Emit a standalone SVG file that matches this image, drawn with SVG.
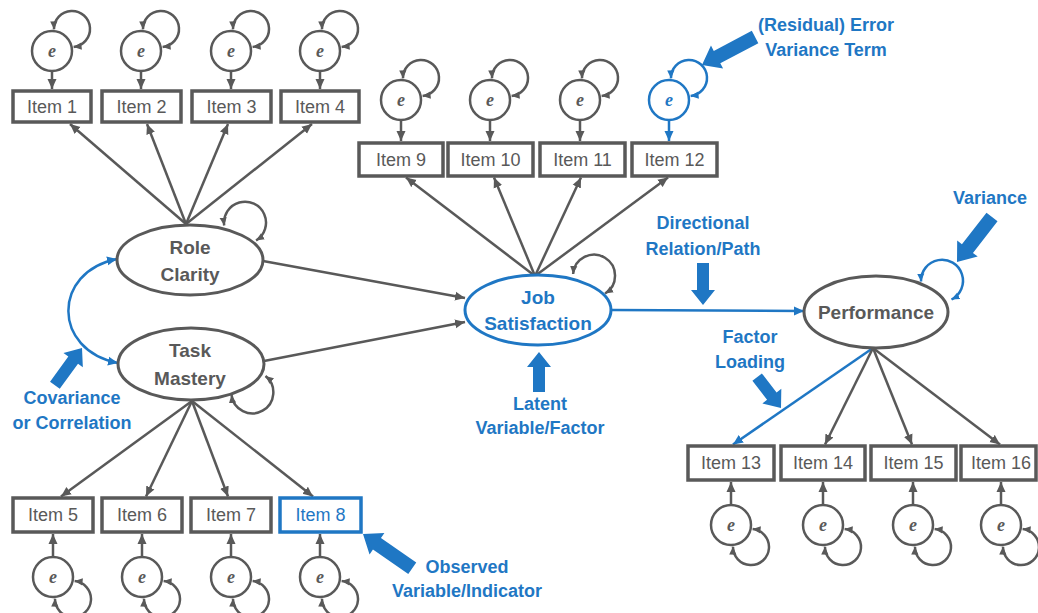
<svg xmlns="http://www.w3.org/2000/svg" xmlns:xlink="http://www.w3.org/1999/xlink" width="1038" height="613" viewBox="0 0 1038 613">
<style>
.ln{stroke:#595959;stroke-width:2.5;fill:none;marker-end:url(#ag)}
.lb{stroke:#1f77c4;stroke-width:2.5;fill:none;marker-end:url(#ab)}
.box{fill:#fff;stroke:#595959;stroke-width:3.5}
.boxb{fill:#fff;stroke:#1f77c4;stroke-width:3.5}
.itm{font-family:"Liberation Sans",Arial,sans-serif;font-size:18px;fill:#595959;text-anchor:middle}
.itmb{font-family:"Liberation Sans",Arial,sans-serif;font-size:18px;fill:#1f77c4;text-anchor:middle}
.lat{font-family:"Liberation Sans",Arial,sans-serif;font-size:19px;font-weight:bold;fill:#595959;text-anchor:middle}
.latb{font-family:"Liberation Sans",Arial,sans-serif;font-size:19px;font-weight:bold;fill:#1f77c4;text-anchor:middle}
.ell{fill:#fff;stroke:#595959;stroke-width:3}
.ellb{fill:#fff;stroke:#1f77c4;stroke-width:3}
.err{fill:#fff;stroke:#595959;stroke-width:2.5}
.errb{fill:#fff;stroke:#1f77c4;stroke-width:2.5}
.et{font-family:"Liberation Serif","Times New Roman",serif;font-style:italic;font-weight:bold;font-size:18px;fill:#595959;text-anchor:middle}
.etb{font-family:"Liberation Serif","Times New Roman",serif;font-style:italic;font-weight:bold;font-size:18px;fill:#1f77c4;text-anchor:middle}
.loop{fill:none;stroke:#595959;stroke-width:2.5;marker-start:url(#agl);marker-end:url(#agl)}
.loopb{fill:none;stroke:#1f77c4;stroke-width:2.5;marker-start:url(#abl);marker-end:url(#abl)}
.ann{font-family:"Liberation Sans",Arial,sans-serif;font-size:18px;font-weight:bold;fill:#1f77c4;text-anchor:middle}
.blk{fill:#1f77c4}
</style>
<defs>
<marker id="ag" viewBox="0 0 10 10" refX="10" refY="5" markerWidth="10" markerHeight="10" markerUnits="userSpaceOnUse" orient="auto-start-reverse"><path d="M0,0.5 L10,5 L0,9.5 Z" fill="#595959"/></marker>
<marker id="ab" viewBox="0 0 10 10" refX="10" refY="5" markerWidth="10" markerHeight="10" markerUnits="userSpaceOnUse" orient="auto-start-reverse"><path d="M0,0.5 L10,5 L0,9.5 Z" fill="#1f77c4"/></marker>
<marker id="agl" viewBox="0 0 10 10" refX="10" refY="5" markerWidth="8" markerHeight="8" markerUnits="userSpaceOnUse" orient="auto-start-reverse"><path d="M0,0.5 L10,5 L0,9.5 Z" fill="#595959"/></marker>
<marker id="abl" viewBox="0 0 10 10" refX="10" refY="5" markerWidth="8" markerHeight="8" markerUnits="userSpaceOnUse" orient="auto-start-reverse"><path d="M0,0.5 L10,5 L0,9.5 Z" fill="#1f77c4"/></marker>
<path id="loopT" class="loop" d="M2,-21.6 A18,18 0 1 1 21.6,-4.1"/>
<path id="loopTb" class="loopb" d="M2,-21.6 A18,18 0 1 1 21.6,-4.1"/>
<path id="loopB" class="loop" d="M21.6,4.1 A18,18 0 1 1 2,21.6"/>
</defs>
<rect width="1038" height="613" fill="#fff"/>

<g id="connectors">
<line class="ln" x1="52" y1="71" x2="52" y2="89"/>
<line class="ln" x1="141" y1="71" x2="141" y2="89"/>
<line class="ln" x1="231" y1="71" x2="231" y2="89"/>
<line class="ln" x1="320" y1="71" x2="320" y2="89"/>
<line class="ln" x1="401" y1="120" x2="401" y2="141"/>
<line class="ln" x1="490" y1="120" x2="490" y2="141"/>
<line class="ln" x1="580" y1="120" x2="580" y2="141"/>
<line class="lb" x1="669" y1="120" x2="669" y2="141"/>
<line class="ln" x1="53" y1="557" x2="53" y2="534"/>
<line class="ln" x1="142" y1="557" x2="142" y2="534"/>
<line class="ln" x1="231" y1="557" x2="231" y2="534"/>
<line class="ln" x1="320" y1="557" x2="320" y2="534"/>
<line class="ln" x1="731" y1="505" x2="731" y2="482"/>
<line class="ln" x1="823" y1="505" x2="823" y2="482"/>
<line class="ln" x1="913" y1="505" x2="913" y2="482"/>
<line class="ln" x1="1001" y1="505" x2="1001" y2="482"/>
<use href="#loopT" transform="translate(52,51)"/>
<use href="#loopT" transform="translate(141,51)"/>
<use href="#loopT" transform="translate(231,51)"/>
<use href="#loopT" transform="translate(320,51)"/>
<use href="#loopT" transform="translate(401,100)"/>
<use href="#loopT" transform="translate(490,100)"/>
<use href="#loopT" transform="translate(580,100)"/>
<use href="#loopTb" transform="translate(669,100)"/>
<use href="#loopB" transform="translate(53,577)"/>
<use href="#loopB" transform="translate(142,577)"/>
<use href="#loopB" transform="translate(231,577)"/>
<use href="#loopB" transform="translate(320,577)"/>
<use href="#loopB" transform="translate(731,525)"/>
<use href="#loopB" transform="translate(823,525)"/>
<use href="#loopB" transform="translate(913,525)"/>
<use href="#loopB" transform="translate(1001,525)"/>
<line class="ln" x1="186" y1="224" x2="70" y2="124"/>
<line class="ln" x1="186" y1="224" x2="147" y2="124"/>
<line class="ln" x1="186" y1="224" x2="228" y2="124"/>
<line class="ln" x1="186" y1="224" x2="312" y2="124"/>
<line class="ln" x1="192" y1="401" x2="61" y2="496.5"/>
<line class="ln" x1="192" y1="401" x2="146" y2="496.5"/>
<line class="ln" x1="192" y1="401" x2="228" y2="496.5"/>
<line class="ln" x1="192" y1="401" x2="313" y2="496.5"/>
<line class="ln" x1="535" y1="276" x2="406" y2="177.5"/>
<line class="ln" x1="535" y1="276" x2="494" y2="177.5"/>
<line class="ln" x1="535" y1="276" x2="581" y2="177.5"/>
<line class="ln" x1="535" y1="276" x2="668" y2="177.5"/>
<line class="lb" x1="873" y1="348" x2="733" y2="444.5"/>
<line class="ln" x1="873" y1="348" x2="825" y2="444.5"/>
<line class="ln" x1="873" y1="348" x2="912" y2="444.5"/>
<line class="ln" x1="873" y1="348" x2="1000" y2="444.5"/>
<line class="ln" x1="263" y1="261" x2="465" y2="298"/>
<line class="ln" x1="264" y1="361" x2="465" y2="322"/>
<line class="lb" x1="612" y1="310" x2="804" y2="311"/>
<path class="lb" style="marker-start:url(#ab)" d="M117,259 C52,272 52,350 118,363"/>
<path class="loop" d="M224.2,225.5 A21,21 0 1 1 256.1,240.5"/>
<path class="loop" d="M265.5,376 A21,21 0 1 1 231.5,395"/>
<path class="loop" d="M573.1,274 A21,21 0 1 1 605.1,293.5"/>
<path class="loopb" d="M921,281.5 A21,21 0 1 1 951.5,299.5"/>
</g>

<g id="item1"><rect class="box" x="13" y="91" width="78" height="31"/><text class="itm" x="52" y="112.5">Item 1</text></g>
<g id="item2"><rect class="box" x="102" y="91" width="79" height="31"/><text class="itm" x="141.5" y="112.5">Item 2</text></g>
<g id="item3"><rect class="box" x="192" y="91" width="79" height="31"/><text class="itm" x="231.5" y="112.5">Item 3</text></g>
<g id="item4"><rect class="box" x="281" y="91" width="78" height="31"/><text class="itm" x="320" y="112.5">Item 4</text></g>
<g id="item9"><rect class="box" x="359" y="143" width="84" height="33"/><text class="itm" x="401" y="165.5">Item 9</text></g>
<g id="item10"><rect class="box" x="448" y="143" width="85" height="33"/><text class="itm" x="490.5" y="165.5">Item 10</text></g>
<g id="item11"><rect class="box" x="540" y="143" width="85" height="33"/><text class="itm" x="582.5" y="165.5">Item 11</text></g>
<g id="item12"><rect class="box" x="632" y="143" width="85" height="33"/><text class="itm" x="674.5" y="165.5">Item 12</text></g>
<g id="item5"><rect class="box" x="13" y="498" width="80" height="34"/><text class="itm" x="53" y="521">Item 5</text></g>
<g id="item6"><rect class="box" x="102" y="498" width="80" height="34"/><text class="itm" x="142" y="521">Item 6</text></g>
<g id="item7"><rect class="box" x="191" y="498" width="80" height="34"/><text class="itm" x="231" y="521">Item 7</text></g>
<g id="item8"><rect class="boxb" x="280" y="498" width="81" height="34"/><text class="itmb" x="320.5" y="521">Item 8</text></g>
<g id="item13"><rect class="box" x="688" y="446" width="86" height="34"/><text class="itm" x="731" y="469">Item 13</text></g>
<g id="item14"><rect class="box" x="781" y="446" width="84" height="34"/><text class="itm" x="823" y="469">Item 14</text></g>
<g id="item15"><rect class="box" x="871" y="446" width="85" height="34"/><text class="itm" x="913.5" y="469">Item 15</text></g>
<g id="item16"><rect class="box" x="961" y="446" width="75" height="34"/><text class="itm" x="1001" y="469">Item 16</text></g>

<g id="e1"><circle class="err" cx="52" cy="51" r="20"/><text class="et" x="52" y="57">e</text></g>
<g id="e2"><circle class="err" cx="141" cy="51" r="20"/><text class="et" x="141" y="57">e</text></g>
<g id="e3"><circle class="err" cx="231" cy="51" r="20"/><text class="et" x="231" y="57">e</text></g>
<g id="e4"><circle class="err" cx="320" cy="51" r="20"/><text class="et" x="320" y="57">e</text></g>
<g id="e9"><circle class="err" cx="401" cy="100" r="20"/><text class="et" x="401" y="106">e</text></g>
<g id="e10"><circle class="err" cx="490" cy="100" r="20"/><text class="et" x="490" y="106">e</text></g>
<g id="e11"><circle class="err" cx="580" cy="100" r="20"/><text class="et" x="580" y="106">e</text></g>
<g id="e12"><circle class="errb" cx="669" cy="100" r="20"/><text class="etb" x="669" y="106">e</text></g>
<g id="e5"><circle class="err" cx="53" cy="577" r="20"/><text class="et" x="53" y="583">e</text></g>
<g id="e6"><circle class="err" cx="142" cy="577" r="20"/><text class="et" x="142" y="583">e</text></g>
<g id="e7"><circle class="err" cx="231" cy="577" r="20"/><text class="et" x="231" y="583">e</text></g>
<g id="e8"><circle class="err" cx="320" cy="577" r="20"/><text class="et" x="320" y="583">e</text></g>
<g id="e13"><circle class="err" cx="731" cy="525" r="20"/><text class="et" x="731" y="531">e</text></g>
<g id="e14"><circle class="err" cx="823" cy="525" r="20"/><text class="et" x="823" y="531">e</text></g>
<g id="e15"><circle class="err" cx="913" cy="525" r="20"/><text class="et" x="913" y="531">e</text></g>
<g id="e16"><circle class="err" cx="1001" cy="525" r="20"/><text class="et" x="1001" y="531">e</text></g>

<g id="role-clarity"><ellipse class="ell" cx="190" cy="260" rx="73" ry="35"/><text class="lat" x="190" y="254">Role</text><text class="lat" x="190" y="281">Clarity</text></g>
<g id="task-mastery"><ellipse class="ell" cx="191" cy="364" rx="73" ry="36"/><text class="lat" x="190" y="357">Task</text><text class="lat" x="190" y="385">Mastery</text></g>
<g id="job-satisfaction"><ellipse class="ellb" cx="538" cy="310" rx="73" ry="35"/><text class="latb" x="538" y="304">Job</text><text class="latb" x="538" y="330">Satisfaction</text></g>
<g id="performance"><ellipse class="ell" cx="876" cy="312" rx="72" ry="36"/><text class="lat" x="876" y="319">Performance</text></g>

<g id="annotations">
<path class="blk" transform="translate(82,348) rotate(-53.9)" d="M0,0 L-15,-12 L-15,-6 L-46,-6 L-46,6 L-15,6 L-15,12 Z"/>
<path class="blk" transform="translate(703,305) rotate(90)" d="M0,0 L-15,-12 L-15,-6 L-42,-6 L-42,6 L-15,6 L-15,12 Z"/>
<path class="blk" transform="translate(539,352) rotate(-90)" d="M0,0 L-15,-12 L-15,-6 L-40,-6 L-40,6 L-15,6 L-15,12 Z"/>
<path class="blk" transform="translate(781,408) rotate(52.3)" d="M0,0 L-15,-12 L-15,-6 L-39,-6 L-39,6 L-15,6 L-15,12 Z"/>
<path class="blk" transform="translate(363,534) rotate(-145.2)" d="M0,0 L-17,-13 L-17,-7 L-60,-7 L-60,7 L-17,7 L-17,13 Z"/>
<path class="blk" transform="translate(702,65) rotate(152.2)" d="M0,0 L-17,-13 L-17,-7 L-60,-7 L-60,7 L-17,7 L-17,13 Z"/>
<path class="blk" transform="translate(957,262) rotate(127.9)" d="M0,0 L-17,-13 L-17,-7 L-57,-7 L-57,7 L-17,7 L-17,13 Z"/>
<text class="ann" x="826" y="31">(Residual) Error</text>
<text class="ann" x="826" y="56">Variance Term</text>
<text class="ann" x="990" y="204">Variance</text>
<text class="ann" x="703" y="229">Directional</text>
<text class="ann" x="703" y="255">Relation/Path</text>
<text class="ann" x="750" y="343">Factor</text>
<text class="ann" x="750" y="368">Loading</text>
<text class="ann" x="540" y="410">Latent</text>
<text class="ann" x="540" y="434">Variable/Factor</text>
<text class="ann" x="72" y="404">Covariance</text>
<text class="ann" x="72" y="429">or Correlation</text>
<text class="ann" x="467" y="573">Observed</text>
<text class="ann" x="467" y="597">Variable/Indicator</text>
</g>
</svg>
